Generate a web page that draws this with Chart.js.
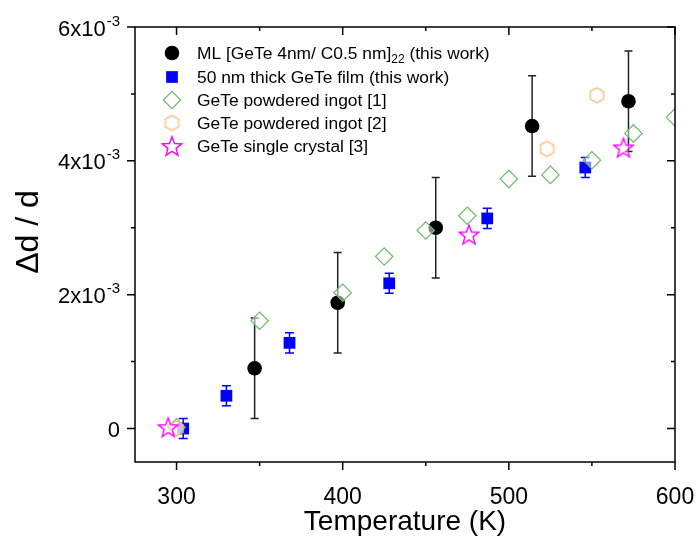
<!DOCTYPE html>
<html>
<head>
<meta charset="utf-8">
<script src="https://cdn.jsdelivr.net/npm/chart.js@4.4.1/dist/chart.umd.min.js"></script>
<style>
  html, body { margin: 0; padding: 0; background: #fff; }
</style>
</head>
<body>
<canvas id="myChart" width="696" height="545"></canvas>
<script>
// ML [GeTe 4nm/ C0.5 nm]22 (this work)
const mlTemp = [347, 397, 456, 514, 572];
const mlStrain = [0.90e-3, 1.88e-3, 3.00e-3, 4.52e-3, 4.89e-3];
const mlErr = [0.75e-3, 0.75e-3, 0.75e-3, 0.75e-3, 0.75e-3];

// 50 nm thick GeTe film (this work)
const filmTemp = [304, 330, 368, 428, 487, 546];
const filmStrain = [0, 0.49e-3, 1.28e-3, 2.17e-3, 3.14e-3, 3.90e-3];
const filmErr = [0.15e-3, 0.15e-3, 0.15e-3, 0.15e-3, 0.15e-3, 0.15e-3];

// GeTe powdered ingot [1]
const ingot1Temp = [300, 350, 400, 425, 450, 475, 500, 525, 550, 575, 600];
const ingot1Strain = [0.02e-3, 1.61e-3, 2.03e-3, 2.57e-3, 2.96e-3, 3.18e-3, 3.73e-3, 3.79e-3, 4.01e-3, 4.41e-3, 4.65e-3];

// GeTe powdered ingot [2]
const ingot2Temp = [300, 523, 553];
const ingot2Strain = [0, 4.18e-3, 4.98e-3];

// GeTe single crystal [3]
const crystalTemp = [295, 476, 569];
const crystalStrain = [0.02e-3, 2.90e-3, 4.20e-3];

const xTicks = [300, 400, 500, 600];
const xMinorTicks = [350, 450, 550];
const yTicks = [0, 2e-3, 4e-3, 6e-3];
const yTickLabels = [['0', ''], ['2x10', '-3'], ['4x10', '-3'], ['6x10', '-3']];
const yMinorTicks = [1e-3, 3e-3, 5e-3];

const FONT = '"Liberation Sans", Arial, sans-serif';

function pts(xs, ys) {
  return xs.map((x, i) => ({ x: x, y: ys[i] }));
}

// open hexagon and star markers (not built into Chart.js)
function makeHexagon(r, color, lw) {
  const size = Math.ceil(2 * r + lw + 4);
  const c = document.createElement('canvas');
  c.width = size; c.height = size;
  const g = c.getContext('2d');
  g.beginPath();
  for (let i = 0; i < 6; i++) {
    const a = -Math.PI / 2 + i * Math.PI / 3;
    const px = size / 2 + r * Math.cos(a), py = size / 2 + r * Math.sin(a);
    if (i === 0) g.moveTo(px, py); else g.lineTo(px, py);
  }
  g.closePath();
  g.fillStyle = 'rgba(255,255,255,0.5)';
  g.fill();
  g.lineWidth = lw;
  g.strokeStyle = color;
  g.stroke();
  return c;
}

function makeStar(outer, inner, color, lw) {
  const size = Math.ceil(2 * outer + lw + 4);
  const c = document.createElement('canvas');
  c.width = size; c.height = size;
  const g = c.getContext('2d');
  const cy = size / 2 + outer * 0.1;
  g.beginPath();
  for (let i = 0; i < 10; i++) {
    const r = i % 2 === 0 ? outer : inner;
    const a = -Math.PI / 2 + i * Math.PI / 5;
    const px = size / 2 + r * Math.cos(a), py = cy + r * Math.sin(a);
    if (i === 0) g.moveTo(px, py); else g.lineTo(px, py);
  }
  g.closePath();
  g.fillStyle = 'rgba(255,255,255,0.5)';
  g.fill();
  g.lineWidth = lw;
  g.strokeStyle = color;
  g.stroke();
  return c;
}

const hexImg = makeHexagon(7.6, '#ffb46e', 1.2);
const starImg = makeStar(10.2, 4.3, '#ff00ff', 1.4);

const errorBars = {
  id: 'errorBars',
  beforeDatasetsDraw(chart) {
    const ctx = chart.ctx;
    const xs = chart.scales.x, ys = chart.scales.y;
    chart.data.datasets.forEach(ds => {
      if (!ds.errors) return;
      ctx.save();
      ctx.strokeStyle = ds.errColor;
      ctx.lineWidth = 1.5;
      ds.data.forEach((p, i) => {
        const px = xs.getPixelForValue(p.x);
        const top = ys.getPixelForValue(p.y + ds.errors[i]);
        const bot = ys.getPixelForValue(p.y - ds.errors[i]);
        const w = ds.capHalf;
        ctx.beginPath();
        ctx.moveTo(px, top); ctx.lineTo(px, bot);
        ctx.moveTo(px - w, top); ctx.lineTo(px + w, top);
        ctx.moveTo(px - w, bot); ctx.lineTo(px + w, bot);
        ctx.stroke();
      });
      ctx.restore();
    });
  }
};

const frameAndLabels = {
  id: 'frameAndLabels',
  afterDatasetsDraw(chart) {
    const ctx = chart.ctx;
    const a = chart.chartArea;
    const xs = chart.scales.x, ys = chart.scales.y;
    ctx.save();
    ctx.strokeStyle = '#000';
    ctx.lineWidth = 1.5;
    ctx.strokeRect(a.left, a.top, a.right - a.left, a.bottom - a.top);

    ctx.beginPath();
    xTicks.forEach(v => {
      const px = xs.getPixelForValue(v);
      ctx.moveTo(px, a.bottom); ctx.lineTo(px, a.bottom + 8);
      ctx.moveTo(px, a.top); ctx.lineTo(px, a.top + 8);
    });
    xMinorTicks.forEach(v => {
      const px = xs.getPixelForValue(v);
      ctx.moveTo(px, a.bottom); ctx.lineTo(px, a.bottom + 4);
      ctx.moveTo(px, a.top); ctx.lineTo(px, a.top + 4);
    });
    yTicks.forEach(v => {
      const py = ys.getPixelForValue(v);
      ctx.moveTo(a.left, py); ctx.lineTo(a.left - 8, py);
      ctx.moveTo(a.right, py); ctx.lineTo(a.right - 8, py);
    });
    yMinorTicks.forEach(v => {
      const py = ys.getPixelForValue(v);
      ctx.moveTo(a.left, py); ctx.lineTo(a.left - 4, py);
      ctx.moveTo(a.right, py); ctx.lineTo(a.right - 4, py);
    });
    ctx.stroke();

    ctx.fillStyle = '#000';
    ctx.textBaseline = 'alphabetic';
    ctx.font = '23px ' + FONT;
    ctx.textAlign = 'center';
    xTicks.forEach(v => {
      ctx.fillText(String(v), xs.getPixelForValue(v), a.bottom + 42);
    });

    // y tick labels with superscript exponent
    yTicks.forEach((v, i) => {
      const py = ys.getPixelForValue(v) + 8.5;
      const main = yTickLabels[i][0], sup = yTickLabels[i][1];
      const right = a.left - 15;
      ctx.font = '15px ' + FONT;
      const sw = sup ? ctx.measureText(sup).width + 1 : 0;
      ctx.textAlign = 'right';
      if (sup) ctx.fillText(sup, right, py - 10);
      ctx.font = '22px ' + FONT;
      ctx.fillText(main, right - sw, py);
    });

    ctx.textAlign = 'center';
    ctx.font = '28px ' + FONT;
    ctx.fillText('Temperature (K)', (a.left + a.right) / 2, 530);

    ctx.save();
    ctx.translate(38, 232);
    ctx.rotate(-Math.PI / 2);
    ctx.font = '32px ' + FONT;
    ctx.fillText('\u0394d / d', 0, 0);
    ctx.restore();

    // legend
    const rows = [53, 77, 100, 123, 146];
    const mx = 172, tx = 197;
    chart.data.datasets.forEach((ds, i) => {
      const y = rows[i];
      const style = ds.pointStyle;
      if (style instanceof HTMLCanvasElement) {
        ctx.drawImage(style, mx - style.width / 2, y - style.height / 2);
      } else {
        ctx.fillStyle = ds.backgroundColor;
        ctx.strokeStyle = ds.borderColor;
        ctx.lineWidth = ds.borderWidth;
        Chart.helpers.drawPoint(ctx, { pointStyle: style, radius: ds.pointRadius, borderWidth: ds.borderWidth, rotation: 0 }, mx, y);
      }
      ctx.fillStyle = '#000';
      ctx.textAlign = 'left';
      ctx.font = '17.4px ' + FONT;
      const by = y + 6;
      if (ds.subLabel) {
        let x = tx;
        ctx.fillText(ds.label, x, by);
        x += ctx.measureText(ds.label).width;
        ctx.font = '12px ' + FONT;
        ctx.fillText(ds.subLabel, x, by + 4);
        x += ctx.measureText(ds.subLabel).width;
        ctx.font = '17.4px ' + FONT;
        ctx.fillText(ds.tailLabel, x, by);
      } else {
        ctx.fillText(ds.label, tx, by);
      }
    });
    ctx.restore();
  }
};

const ctx = document.getElementById('myChart');
new Chart(ctx, {
  type: 'scatter',
  data: {
    datasets: [
      {
        label: 'ML [GeTe 4nm/ C0.5 nm]',
        subLabel: '22',
        tailLabel: ' (this work)',
        data: pts(mlTemp, mlStrain),
        errors: mlErr, errColor: '#222', capHalf: 4,
        pointStyle: 'circle', pointRadius: 7.3, borderWidth: 0,
        backgroundColor: '#000', borderColor: '#000',
        order: 5, clip: 0
      },
      {
        label: '50 nm thick GeTe film (this work)',
        data: pts(filmTemp, filmStrain),
        errors: filmErr, errColor: '#0000ff', capHalf: 4.5,
        pointStyle: 'rect', pointRadius: 8.3, borderWidth: 0,
        backgroundColor: '#0000ff', borderColor: '#0000ff',
        order: 4, clip: 0
      },
      {
        label: 'GeTe powdered ingot [1]',
        data: pts(ingot1Temp, ingot1Strain),
        pointStyle: 'rectRot', pointRadius: 8.7, borderWidth: 1.2,
        backgroundColor: 'rgba(255,255,255,0.5)', borderColor: '#6cbb6c',
        order: 3, clip: 0
      },
      {
        label: 'GeTe powdered ingot [2]',
        data: pts(ingot2Temp, ingot2Strain),
        pointStyle: hexImg, pointRadius: 8,
        backgroundColor: 'rgba(255,255,255,0.5)', borderColor: '#ffb46e',
        order: 2, clip: 0
      },
      {
        label: 'GeTe single crystal [3]',
        data: pts(crystalTemp, crystalStrain),
        pointStyle: starImg, pointRadius: 10,
        backgroundColor: 'rgba(255,255,255,0.5)', borderColor: '#ff00ff',
        order: 1, clip: 0
      }
    ]
  },
  options: {
    responsive: false,
    animation: false,
    events: [],
    layout: { padding: { left: 0, right: 21, top: 27, bottom: 0 } },
    plugins: { legend: { display: false }, tooltip: { enabled: false } },
    scales: {
      x: {
        type: 'linear', min: 275, max: 600,
        ticks: { display: false },
        grid: { display: false },
        border: { display: false },
        afterFit: s => { s.height = 83; }
      },
      y: {
        type: 'linear', min: -0.5e-3, max: 6e-3,
        ticks: { display: false },
        grid: { display: false },
        border: { display: false },
        afterFit: s => { s.width = 135; }
      }
    }
  },
  plugins: [errorBars, frameAndLabels]
});
</script>
</body>
</html>
